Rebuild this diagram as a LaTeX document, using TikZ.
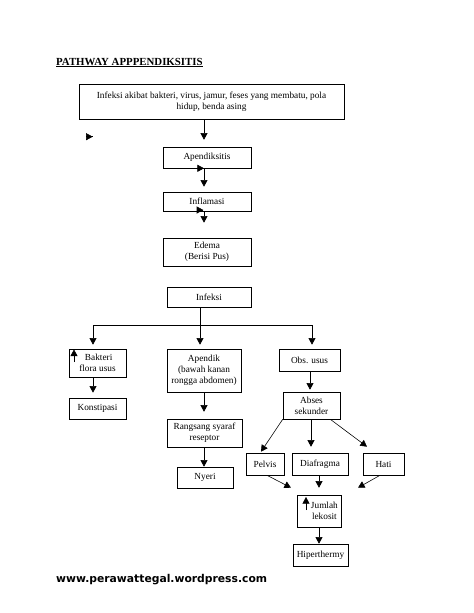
\documentclass[tikz,border=0pt]{standalone}
\usepackage{fontspec}
\setmainfont{Liberation Serif}
\newfontfamily\webfont{DejaVu Sans}
\usetikzlibrary{arrows.meta,calc}
\begin{document}
\begin{tikzpicture}[x=1.291pt,y=-1.291pt,
  box/.style={draw, line width=0.75pt, inner sep=0pt, align=center, font=\fontsize{12}{14.5}\selectfont},
  wh/.style 2 args={minimum width={#1*1.291pt}, minimum height={#2*1.291pt}},
  arr/.style={line width=0.75pt, -{Triangle[length=8.5pt,width=9pt]}},
  ln/.style={line width=0.75pt},
]
\fill[white] (0,0) rectangle (474,613);
\useasboundingbox (0,0) rectangle (474,613);

% title and footer
\node[anchor=base west, inner sep=0pt, font=\fontsize{14}{16}\selectfont\bfseries] (title) at (56,65) {\underline{PATHWAY APPPENDIKSITIS}};
\node[anchor=base west, inner sep=0pt, font=\webfont\bfseries\fontsize{13.9}{16}\selectfont] (web) at (56,582) {www.perawattegal.wordpress.com};

% boxes
\node[box, wh={265}{35}] (top) at (211.5,101.5) {Infeksi akibat bakteri, virus, jamur, feses yang membatu, pola\\hidup, benda asing};
\node[box, wh={88}{21}] (apx) at (207,157.5) {Apendiksitis};
\node[box, wh={88}{19}] (infl) at (207,201.5) {Inflamasi};
\node[box, wh={88}{28}] (edema) at (207,252) {Edema\\(Berisi Pus)};
\node[box, wh={84}{20}] (infeksi) at (209,297) {Infeksi};
\node[box, wh={57}{28}] (bakteri) at (97.5,363) {\hspace*{3pt}Bakteri\\flora usus};
\node[box, wh={57}{21}] (konst) at (97.5,408.5) {Konstipasi};
\node[box, wh={74}{43}] (apendik) at (204,370.5) {Apendik\\(bawah kanan\\rongga abdomen)};
\node[box, wh={75}{28}] (rangsang) at (204.5,433) {Rangsang syaraf\\reseptor};
\node[box, wh={56}{21}] (nyeri) at (205,477.5) {Nyeri};
\node[box, wh={61}{22}] (obs) at (309.5,360) {Obs. usus};
\node[box, wh={57}{27}] (abses) at (311.5,405.5) {Abses\\sekunder};
\node[box, wh={38}{22}] (pelvis) at (265,464) {Pelvis};
\node[box, wh={56}{22}] (diaf) at (320,464) {Diafragma};
\node[box, wh={41}{22}] (hati) at (383.5,464) {Hati};
\node[box, wh={44}{32}] (jumlah) at (319,511) {\hspace*{14pt}Jumlah\\\hspace*{14pt}lekosit};
\node[box, wh={55}{22}] (hiper) at (320.5,555) {Hiperthermy};

% column helpers
\coordinate (cA) at (204,0);
\coordinate (cL) at (93,0);
\coordinate (cM) at (200,0);
\coordinate (cR) at (312,0);
\coordinate (cO) at (310,0);
\coordinate (cD) at (311,0);
\coordinate (cJ) at (319,0);
\coordinate (hb) at (0,325);

% main chain
\draw[arr, shorten >=9pt] (top.south -| cA) -- (apx.north -| cA);
\draw[arr, shorten >=6.5pt] (apx.south -| cA) -- (infl.north -| cA);
\draw[arr, shorten >=19.4pt] (infl.south -| cA) -- (edema.north -| cA);

% branching from Infeksi
\draw[arr, shorten >=5.2pt] (infeksi.south -| cM) -- (apendik.north -| cM);
\draw[ln] (hb -| cL) -- (hb -| cR);
\draw[arr, shorten >=5.2pt] (hb -| cL) -- (bakteri.north -| cL);
\draw[arr, shorten >=5.2pt] (hb -| cR) -- (obs.north -| cR);

% left column
\draw[arr, shorten >=6.5pt] (bakteri.south -| cL) -- (konst.north -| cL);

% middle column
\draw[arr, shorten >=9pt] (apendik.south -| cA) -- (rangsang.north -| cA);
\draw[arr] (rangsang.south -| cA) -- (nyeri.north -| cA);

% right column
\draw[arr, shorten >=2.6pt] (obs.south -| cO) -- (abses.north -| cO);
\draw[arr] (abses.south west) -- ($(pelvis.north)+(-4,-1)$);
\draw[arr, shorten >=7.7pt] (abses.south -| cD) -- (diaf.north -| cD);
\draw[arr] ($(abses.south east)+(-10,0)$) -- ($(hati.north)+(-16.5,-6)$);
\draw[arr] ($(pelvis.south)+(2,0)$) -- ($(jumlah.north)+(-28,-7)$);
\draw[arr, shorten >=9pt] (diaf.south -| cJ) -- (jumlah.north -| cJ);
\draw[arr] ($(hati.south)+(-3.5,0)$) -- ($(jumlah.north)+(39,-7)$);
\draw[arr] (jumlah.south -| cJ) -- (hiper.north -| cJ);

% stray arrowheads as printed
\coordinate (s1) at (92.7,136.7);
\coordinate (s2) at (204,168.3);
\coordinate (s3) at (203.3,210);
\coordinate (u1a) at (74,362);
\coordinate (u1b) at (74,349.5);
\coordinate (u2a) at (306,510);
\coordinate (u2b) at (306,497);
\draw[arr] ($(s1)+(-0.1,0)$) -- (s1);
\draw[arr] ($(s2)+(-0.1,0)$) -- (s2);
\draw[arr] ($(s3)+(-0.1,0)$) -- (s3);
\draw[arr] (u1a) -- (u1b);
\draw[arr] (u2a) -- (u2b);
\end{tikzpicture}
\end{document}
